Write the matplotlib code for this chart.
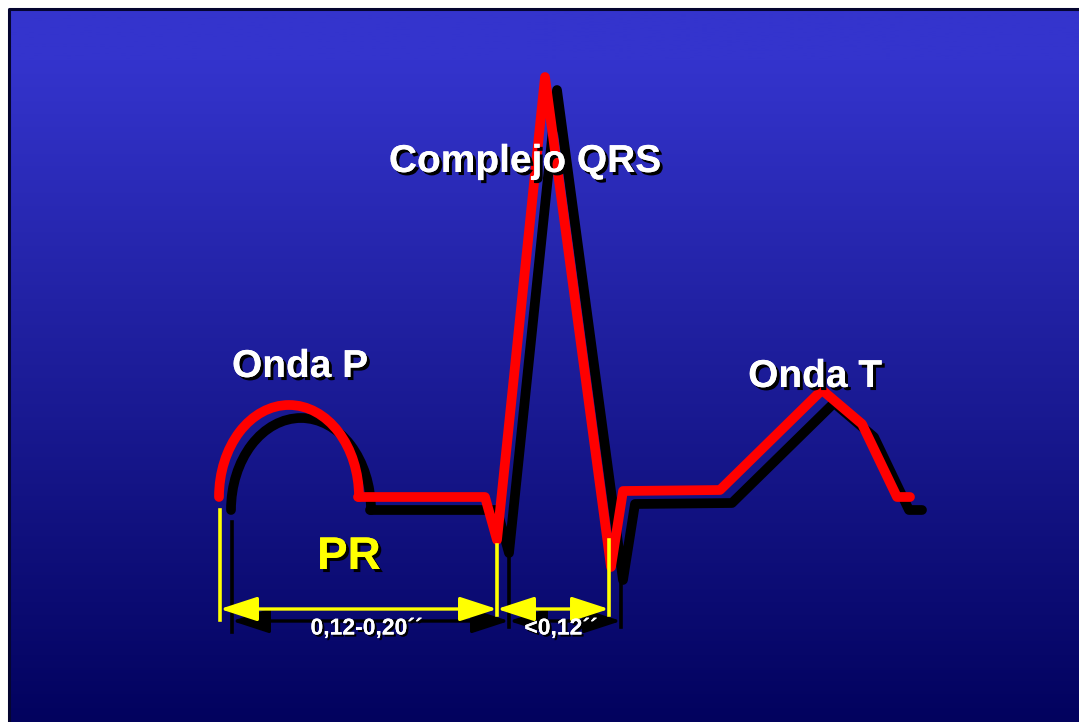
import numpy as np
import matplotlib
matplotlib.use("Agg")
import matplotlib.pyplot as plt
import matplotlib.patheffects as pe
from matplotlib.patches import Arc, FancyArrowPatch

plt.rcParams['font.family'] = ['Liberation Sans', 'DejaVu Sans']

# ECG trace (pixel coordinates of the slide, y grows downward)
p_wave_center = (289, 497)
p_wave_size = (140, 184)
trace_x = [358, 485, 497, 545, 611, 623, 720, 822, 862, 897, 910]
trace_y = [497, 497, 540, 77, 567, 491, 490, 390, 424, 497, 497]

# interval markers
marker_x = [220, 497, 609]
marker_top = [510, 545, 540]
marker_bottom = [620, 615, 615]
interval_y = 609
interval_labels = ["0,12-0,20\u00b4\u00b4", "<0,12\u00b4\u00b4"]

# wave names
wave_labels = ["Onda P", "Complejo QRS", "Onda T"]
wave_label_xy = [(300, 367), (525, 162), (815, 377)]

W, H = 1079, 722
shadow = (12, 13)

fig = plt.figure(figsize=(W / 100, H / 100), dpi=100)
ax = fig.add_axes([0, 0, 1, 1])
ax.set_xlim(0, W)
ax.set_ylim(H, 0)
ax.axis("off")

# blue gradient background
top = np.array([52, 52, 205]) / 255
bottom = np.array([2, 2, 94]) / 255
t = np.clip((np.linspace(9, H, 300) - 60) / (H - 60), 0, 1)[:, None]
grad = (top * (1 - t) + bottom * t)[:, None, :]
ax.imshow(grad, extent=(9, W, H, 9), aspect="auto", zorder=0)
ax.plot([8.5, 8.5, W], [H, 8.5, 8.5], color="#050530", lw=2.2, zorder=1)

lw = 7
for dx, dy, col, z in [(shadow[0], shadow[1], "black", 2), (0, 0, "#ff0000", 3)]:
    ax.add_patch(Arc((p_wave_center[0] + dx, p_wave_center[1] + dy),
                     p_wave_size[0], p_wave_size[1], theta1=180, theta2=360,
                     color=col, lw=lw, capstyle="round", zorder=z))
    ax.plot(np.array(trace_x) + dx, np.array(trace_y) + dy, color=col, lw=lw,
            solid_capstyle="round", solid_joinstyle="round", zorder=z)

# marker lines and arrows
for dx, dy, col, z in [(12, 12, "black", 2), (0, 0, "#ffff00", 4)]:
    for x, y0, y1 in zip(marker_x, marker_top, marker_bottom):
        ax.plot([x + dx, x + dx], [y0 + dy, y1 + dy], color=col, lw=2.6, zorder=z)
    for xa, xb in zip(marker_x[:-1], marker_x[1:]):
        arr = FancyArrowPatch((xa + dx, interval_y + dy), (xb + dx, interval_y + dy),
                              arrowstyle="<|-|>,head_length=2.3,head_width=0.75",
                              mutation_scale=10, shrinkA=0, shrinkB=0,
                              color=col, lw=2.4, zorder=z)
        ax.add_patch(arr)


def shadow_text(x, y, s, size, color, off=2.2):
    fx = [pe.withSimplePatchShadow(offset=(off, -off), shadow_rgbFace="black", alpha=1),
          pe.Normal()]
    ax.text(x, y, s, fontsize=size, fontweight="bold", color=color,
            ha="center", va="center", zorder=6, path_effects=fx)


for s, (x, y) in zip(wave_labels, wave_label_xy):
    shadow_text(x, y, s, 28, "white")

shadow_text(349, 557, "PR", 33, "#ffff00")
for s, xa, xb in zip(interval_labels, marker_x[:-1], marker_x[1:]):
    shadow_text((xa + xb) / 2 + 8, 628, s, 16.5, "white", off=1.5)

fig.savefig("out.png", dpi=100)
